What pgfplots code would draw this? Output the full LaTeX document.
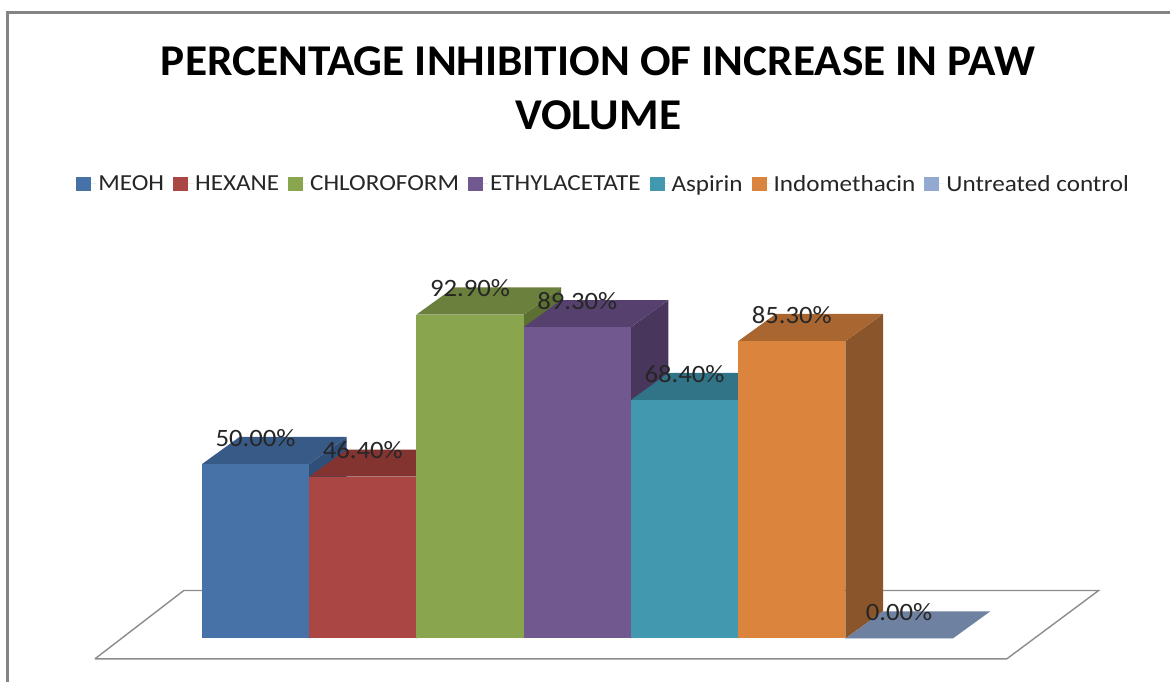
\documentclass[border=0pt]{standalone}
\usepackage{fontspec}
\usepackage{pgfplots}
\pgfplotsset{compat=1.18}
\setmainfont{Carlito}
\newfontfamily\titlefont[FakeStretch=1.03]{Carlito}
\newfontfamily\legendfont[FakeStretch=1.095]{Carlito}
\newfontfamily\labelfont[FakeStretch=1.07]{Carlito}

\definecolor{frameg}{HTML}{848484}
\definecolor{floorg}{HTML}{8C8C8C}
\definecolor{cA}{HTML}{4672A8}\definecolor{cAt}{HTML}{375A87}\definecolor{cAs}{HTML}{2F4F78}
\definecolor{cB}{HTML}{AA4643}\definecolor{cBt}{HTML}{833431}\definecolor{cBs}{HTML}{733030}
\definecolor{cC}{HTML}{89A54E}\definecolor{cCt}{HTML}{6A803C}\definecolor{cCs}{HTML}{5C7033}
\definecolor{cD}{HTML}{71588F}\definecolor{cDt}{HTML}{56406D}\definecolor{cDs}{HTML}{48365C}
\definecolor{cE}{HTML}{4198AF}\definecolor{cEt}{HTML}{317387}\definecolor{cEs}{HTML}{2B6476}
\definecolor{cF}{HTML}{DB843D}\definecolor{cFt}{HTML}{A96630}\definecolor{cFs}{HTML}{8A552A}
\definecolor{cG}{HTML}{93A9CF}\definecolor{cGt}{HTML}{6F81A0}\definecolor{cGs}{HTML}{6F81A0}

% one bar: position, value, front, top and side colour, legend name
\newcommand{\threedbar}[6]{%
  \pgfmathsetmacro{\xl}{#1-0.5}%
  \pgfmathsetmacro{\xr}{#1+0.5}%
  \pgfmathsetmacro{\xlb}{#1-0.5+0.35}%
  \pgfmathsetmacro{\xrb}{#1+0.5+0.35}%
  \pgfmathsetmacro{\yb}{#2+7.8}%
  \addplot[forget plot, draw=none, fill=#5] coordinates {(\xr,0) (\xrb,7.8) (\xrb,\yb) (\xr,#2) (\xr,0)};
  \addplot[forget plot, draw=none, fill=#4] coordinates {(\xl,#2) (\xr,#2) (\xrb,\yb) (\xlb,\yb) (\xl,#2)};
  \addplot[ybar, bar width=1, bar shift=0pt, draw=none, fill=#3] coordinates {(#1,#2)};
  \addlegendentry{#6}
}

\begin{document}
\begin{tikzpicture}
\begin{axis}[
    scale only axis,
    width=1171pt,
    height=683pt,
    xmin=-2.382, xmax=8.521,
    ymin=-12.52, ymax=183.18,
    axis lines=none,
    clip=false,
    title={PERCENTAGE INHIBITION OF INCREASE IN PAW\\VOLUME},
    title style={
        at={(axis description cs:0.5115,0.9236)},
        anchor=north,
        align=center,
        inner sep=0pt,
        font=\titlefont\fontsize{44}{54}\selectfont\bfseries
    },
    legend columns=7,
    legend cell align=left,
    legend style={
        at={(axis description cs:0.0652,0.7303)},
        anchor=west,
        draw=none,
        fill=none,
        inner sep=0pt,
        font=\legendfont\fontsize{23}{23}\selectfont,
        text=black!85,
        /tikz/every even column/.append style={column sep=7pt}
    },
    legend image code/.code={
        \fill[#1] (0pt,-7pt) rectangle (15pt,7pt);
        \path (0pt,0pt) -- (20pt,0pt);
    },
    /pgf/number format/assume math mode=true
]

% floor
\addplot[forget plot, draw=floorg, line width=1.4pt, fill=white]
    coordinates {(-1.497,-5.85) (7.004,-5.85) (7.86,13.75) (-0.669,13.75) (-1.497,-5.85)};

\threedbar{0}{50}{cA}{cAt}{cAs}{MEOH}
\threedbar{1}{46.4}{cB}{cBt}{cBs}{HEXANE}
\threedbar{2}{92.9}{cC}{cCt}{cCs}{CHLOROFORM}
\threedbar{3}{89.3}{cD}{cDt}{cDs}{ETHYLACETATE}
\threedbar{4}{68.4}{cE}{cEt}{cEs}{Aspirin}
\threedbar{5}{85.3}{cF}{cFt}{cFs}{Indomethacin}
\threedbar{6}{0}{cG}{cGt}{cGs}{Untreated control}

% value labels sit over every bar, so they come last
\addplot[
    forget plot,
    draw=none,
    point meta=y,
    nodes near coords={\pgfmathprintnumber[fixed,fixed zerofill,precision=2]{\pgfplotspointmeta}\%},
    every node near coord/.append style={
        anchor=center,
        yshift=26.5pt,
        inner sep=0pt,
        text=black!85,
        font=\labelfont\fontsize{25}{25}\selectfont
    }
] coordinates {(0,50) (1,46.4) (2,92.9) (3,89.3) (4,68.4) (5,85.3) (6,0)};

% chart frame, only left and top show
\draw[frameg, line width=3pt]
    (axis description cs:0.0068,0) -- (axis description cs:0.0068,0.9817) -- (axis description cs:1,0.9817);
% page is the whole axis
\path (axis description cs:0,0) -- (axis description cs:1,1);
\end{axis}
\end{tikzpicture}
\end{document}
